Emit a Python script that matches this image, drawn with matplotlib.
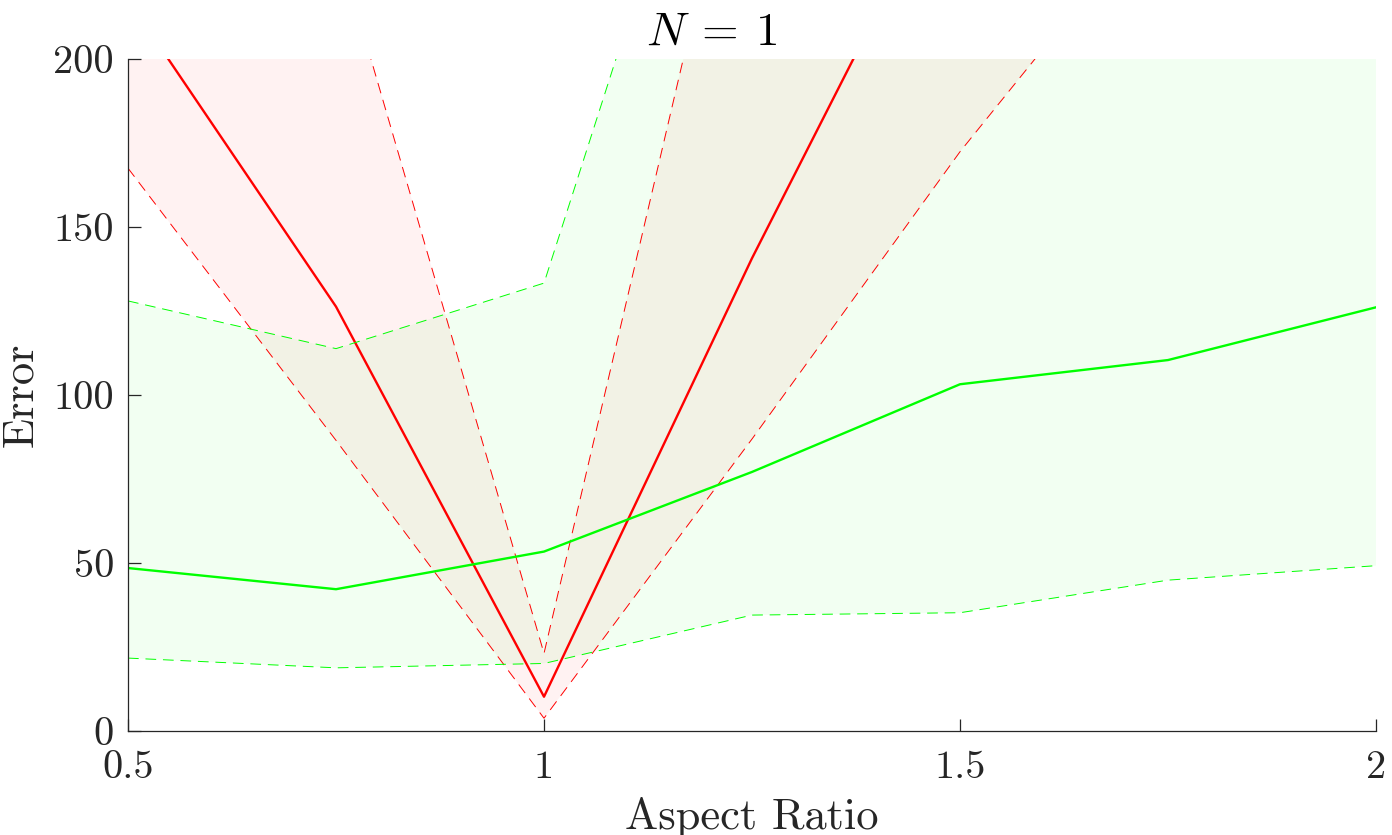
import matplotlib
matplotlib.use('Agg')
import matplotlib.pyplot as plt

plt.rcParams['font.family'] = 'cmr10'
plt.rcParams['mathtext.fontset'] = 'cm'
plt.rcParams['axes.formatter.use_mathtext'] = True

# aspect ratios
aspect = [0.5, 0.75, 1.0, 1.25, 1.5, 1.75, 2.0]

# red series: mean and bounds (values above 200 are clipped by the axes)
red_mean = [217.7, 126.3, 10.2, 140.7, 262.4, 330.0, 400.0]
red_low = [167.5, 86.5, 3.8, 86.9, 172.4, 249.0, 300.0]
red_high = [320.0, 235.7, 23.1, 287.3, 420.0, 480.0, 560.0]

# green series: mean and bounds
green_mean = [48.5, 42.2, 53.4, 77.1, 103.2, 110.4, 126.1]
green_low = [21.7, 18.8, 20.1, 34.5, 35.2, 44.9, 49.2]
green_high = [128.0, 113.8, 133.3, 326.1, 380.0, 420.0, 460.0]

xticks = [0.5, 1, 1.5, 2]
xtick_labels = ['0.5', '1', '1.5', '2']
yticks = [0, 50, 100, 150, 200]
ytick_labels = ['0', '50', '100', '150', '200']

axis_col = '#262626'

fig = plt.figure(figsize=(13.92, 8.35), dpi=100)
ax = fig.add_axes([128 / 1392, 1 - 731 / 835, 1248 / 1392, 672 / 835])

# shaded bands
ax.fill_between(aspect, red_low, red_high, color='#ff0000', alpha=0.05, linewidth=0)
ax.fill_between(aspect, green_low, green_high, color='#00ff00', alpha=0.05, linewidth=0)

# red curves
ax.plot(aspect, red_low, color='#ff0000', lw=0.7, dashes=(11, 7))
ax.plot(aspect, red_high, color='#ff0000', lw=0.7, dashes=(11, 7))
ax.plot(aspect, red_mean, color='#ff0000', lw=1.7)

# green curves
ax.plot(aspect, green_low, color='#00ff00', lw=0.7, dashes=(11, 7))
ax.plot(aspect, green_high, color='#00ff00', lw=0.7, dashes=(11, 7))
ax.plot(aspect, green_mean, color='#00ff00', lw=1.7)

ax.set_xlim(0.5, 2)
ax.set_ylim(0, 200)
ax.set_xticks(xticks)
ax.set_xticklabels(xtick_labels)
ax.set_yticks(yticks)
ax.set_yticklabels(ytick_labels)

ax.spines['top'].set_visible(False)
ax.spines['right'].set_visible(False)
for s in ['left', 'bottom']:
    ax.spines[s].set_color(axis_col)
    ax.spines[s].set_linewidth(0.9)

ax.tick_params(direction='in', length=9, width=0.9, colors=axis_col,
               labelsize=29, labelcolor=axis_col)
ax.tick_params(axis='y', pad=10)
ax.tick_params(axis='x', pad=14)

ax.set_xlabel('Aspect Ratio', fontsize=32, color=axis_col, labelpad=8)
ax.set_ylabel('Error', fontsize=32, color=axis_col, labelpad=9)
ax.set_title(r'$N\:=\:1$', fontsize=34, color='black', x=0.468, pad=10)

fig.savefig('out.png', dpi=100)
